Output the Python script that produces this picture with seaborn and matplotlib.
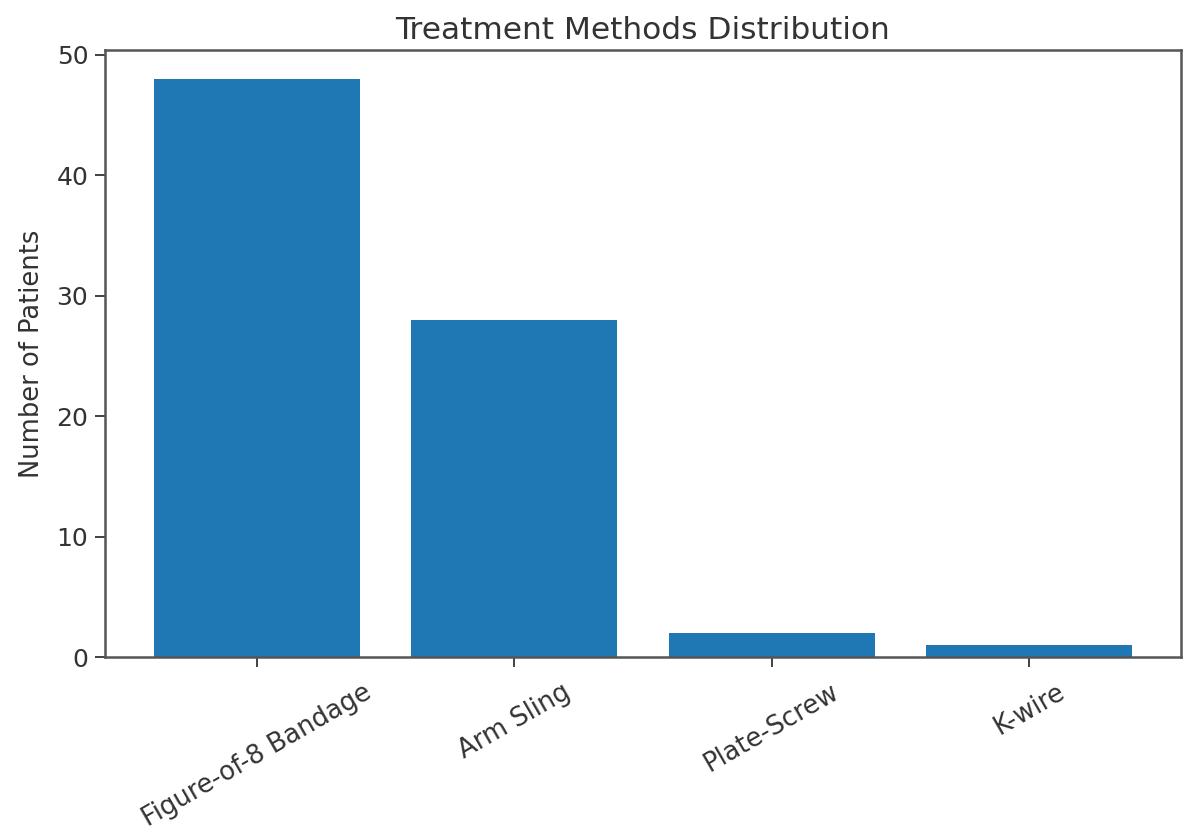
import matplotlib
matplotlib.use("Agg")
import matplotlib.pyplot as plt
import seaborn as sns
import pandas as pd

categories = ["Figure-of-8 Bandage", "Arm Sling", "Plate-Screw", "K-wire"]
patients = [48, 28, 2, 1]

df = pd.DataFrame({"Treatment": categories, "Patients": patients})

plt.rcParams['font.family'] = ['DejaVu Sans']
fig = plt.figure(figsize=(11.85, 8.36), dpi=100)
ax = fig.add_axes([0.0886, 0.214, 0.908, 0.726])

sns.barplot(data=df, x="Treatment", y="Patients", color="#1f77b4", saturation=1,
            width=0.8, edgecolor="none", linewidth=0, ax=ax, errorbar=None)

ax.set_xlim(-0.59, 3.59)
ax.set_ylim(0, 50.4)
ax.set_yticks([0, 10, 20, 30, 40, 50])
ax.set_title("Treatment Methods Distribution", fontsize=22.5, color="#333333", pad=8)
ax.set_ylabel("Number of Patients", fontsize=18.5, color="#333333", labelpad=8)
ax.set_xlabel("")
ax.tick_params(axis="both", labelsize=18, colors="#333333", length=7, width=1.3, pad=5)
ax.tick_params(axis="x", labelsize=18.5, pad=9)
plt.setp(ax.get_xticklabels(), rotation=30, ha="center")
for s in ax.spines.values():
    s.set_color("#555555")
    s.set_linewidth(1.8)

fig.savefig("out.png", dpi=100)
